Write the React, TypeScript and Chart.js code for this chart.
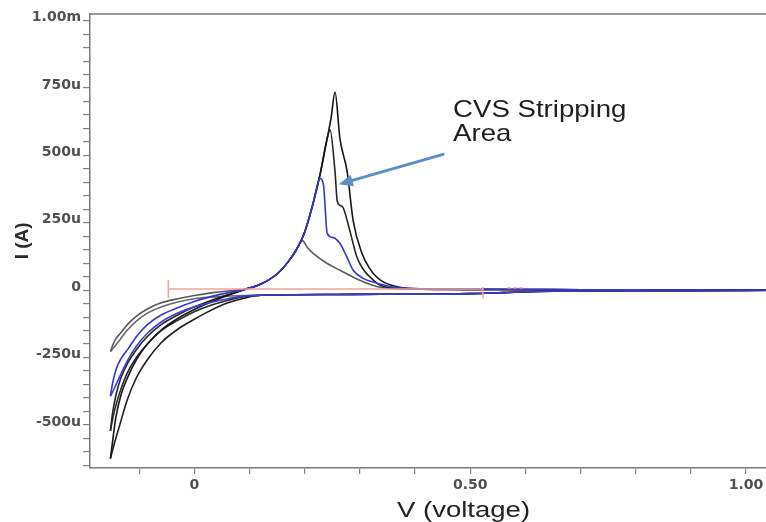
import React, { useEffect, useRef } from "react";
import { Chart, registerables } from "chart.js";

Chart.register(...registerables);

// ---------------- data (V in volts, I in µA) ----------------
const xTickValues = [-0.1, 0, 0.1, 0.2, 0.3, 0.4, 0.5, 0.6, 0.7, 0.8, 0.9, 1.0, 1.1];
const xTickLabels = ["", "0", "", "", "", "", "0.50", "", "", "", "", "1.00", ""];

const yTickValues = [
  -650, -600, -550, -500, -450, -400, -350, -300, -250, -200, -150, -100, -50, 0,
  50, 100, 150, 200, 250, 300, 350, 400, 450, 500, 550, 600, 650, 700, 750, 800,
  850, 900, 950, 1000,
];
const yTickLabels = [
  "", "", "", "-500u", "", "", "", "", "-250u", "", "", "", "", "0",
  "", "", "", "", "250u", "", "", "", "", "500u", "", "", "", "", "750u", "",
  "", "", "", "1.00m",
];

// Curve A (black, tallest stripping peak) – anodic sweep
const curveAFwdV = [-0.152, -0.148, -0.142, -0.133, -0.12, -0.104, -0.085, -0.06, -0.03, 0, 0.03, 0.06, 0.09, 0.12, 0.15, 0.17, 0.185, 0.2, 0.215, 0.228, 0.24, 0.248, 0.255, 0.264, 0.277, 0.288, 0.304, 0.318, 0.331, 0.345, 0.37, 0.41, 0.5, 0.65, 0.8, 1.0, 1.08];
const curveAFwdI = [-625, -560, -470, -390, -320, -255, -200, -148, -105, -72, -44, -20, 2, 22, 60, 105, 150, 215, 320, 430, 555, 640, 735, 562, 441, 257, 136, 80, 48, 28, 12, 5, 3, 2, 1, 0, 0];

// Curve B (black, second peak)
const curveBFwdV = [-0.152, -0.148, -0.142, -0.133, -0.12, -0.104, -0.085, -0.06, -0.03, 0, 0.03, 0.06, 0.09, 0.12, 0.15, 0.17, 0.185, 0.2, 0.215, 0.228, 0.24, 0.246, 0.255, 0.259, 0.264, 0.27, 0.282, 0.295, 0.307, 0.319, 0.337, 0.36, 0.41, 0.5, 0.65, 0.8, 1.0, 1.08];
const curveBFwdI = [-522, -455, -390, -325, -268, -218, -172, -128, -92, -62, -38, -17, 2, 22, 60, 105, 150, 215, 320, 430, 555, 595, 441, 331, 315, 305, 220, 121, 75, 48, 18, 8, 4, 3, 2, 1, 0, 0];

// Curve C (blue)
const curveCFwdV = [-0.152, -0.148, -0.142, -0.133, -0.12, -0.104, -0.085, -0.06, -0.03, 0, 0.03, 0.06, 0.09, 0.12, 0.15, 0.17, 0.185, 0.2, 0.215, 0.228, 0.234, 0.241, 0.252, 0.264, 0.277, 0.288, 0.306, 0.331, 0.36, 0.41, 0.5, 0.65, 0.8, 1.0, 1.08];
const curveCFwdI = [-393, -345, -295, -255, -218, -170, -128, -92, -65, -42, -24, -10, 2, 22, 60, 105, 150, 215, 320, 415, 393, 210, 195, 173, 121, 74, 44, 26, 12, 5, 3, 2, 1, 0, 0];

// Curve D (grey, small peak)
const curveDFwdV = [-0.152, -0.148, -0.142, -0.133, -0.12, -0.104, -0.085, -0.06, -0.03, 0, 0.03, 0.06, 0.09, 0.12, 0.15, 0.17, 0.185, 0.196, 0.205, 0.216, 0.241, 0.264, 0.288, 0.313, 0.337, 0.37, 0.45, 0.6, 0.8, 1.0, 1.08];
const curveDFwdI = [-228, -205, -180, -158, -125, -95, -70, -47, -32, -20, -10, -3, 2, 22, 60, 105, 150, 184, 158, 136, 99, 74, 48, 26, 11, 5, 3, 2, 1, 0, 0];

// Cathodic (return) sweep – common part near zero current
const revRightV = [1.08, 1.0, 0.85, 0.7, 0.62, 0.56, 0.5, 0.42, 0.34, 0.26, 0.18, 0.12];
const revRightI = [0, -1, -2, -3, -5, -9, -13, -15, -15, -16, -17, -19];

// Cathodic sweep – deposition part toward the vertex
const revLeftV = [0.09, 0.06, 0.03, 0, -0.03, -0.06, -0.085, -0.105, -0.122, -0.135, -0.145, -0.152];
const curveARevI = [-30, -48, -75, -108, -145, -195, -258, -325, -410, -500, -570, -625];
const curveBRevI = [-24, -38, -56, -80, -112, -150, -200, -250, -310, -380, -450, -522];
const curveCRevI = [-22, -32, -46, -62, -85, -118, -160, -208, -265, -320, -365, -393];
const curveDRevI = [-20, -22, -26, -32, -44, -62, -85, -115, -150, -185, -210, -228];

// Red marker (integration window)
const markerV = [-0.047, 0.523];
const markerI = [4, 4];
const markerCapLeftI = [38, -30];
const markerCapRightI = [12, -30];
const markerDashV = [0.567, 0.6];
const markerDashI = [7, 7];

// Annotation
const annotLines = ["CVS Stripping", "Area"];
const annotTextV = 0.469;
const annotTextI = [643, 554];
const arrowFromV = 0.451;
const arrowFromI = 504;
const arrowToV = 0.262;
const arrowToI = 393;

const xTitle = "V (voltage)";
const yTitle = "I (A)";

// ------------------------------------------------------------
const pts = (vs: number[], is: number[]) => vs.map((v, i) => ({ x: v, y: is[i] }));

const overlayPlugin = {
  id: "overlay",
  afterDraw(chart: any) {
    const { ctx, chartArea, scales } = chart;
    const xs = scales.x;
    const ys = scales.y;
    ctx.save();
    // top frame line
    ctx.strokeStyle = "#7a7a7a";
    ctx.lineWidth = 1.5;
    ctx.beginPath();
    ctx.moveTo(chartArea.left, chartArea.top);
    ctx.lineTo(chart.width, chartArea.top);
    ctx.stroke();

    // arrow
    const x0 = xs.getPixelForValue(arrowFromV);
    const y0 = ys.getPixelForValue(arrowFromI);
    const x1 = xs.getPixelForValue(arrowToV);
    const y1 = ys.getPixelForValue(arrowToI);
    const ang = Math.atan2(y1 - y0, x1 - x0);
    const headLen = 14;
    const headW = 6;
    const bx = x1 - headLen * Math.cos(ang);
    const by = y1 - headLen * Math.sin(ang);
    ctx.strokeStyle = "#5b8ec2";
    ctx.fillStyle = "#5b8ec2";
    ctx.lineWidth = 3;
    ctx.lineCap = "round";
    ctx.beginPath();
    ctx.moveTo(x0, y0);
    ctx.lineTo(bx, by);
    ctx.stroke();
    ctx.beginPath();
    ctx.moveTo(x1, y1);
    ctx.lineTo(bx + headW * Math.sin(ang), by - headW * Math.cos(ang));
    ctx.lineTo(bx - headW * Math.sin(ang), by + headW * Math.cos(ang));
    ctx.closePath();
    ctx.fill();

    // annotation text
    ctx.fillStyle = "#1e1e1e";
    ctx.font = '24px "Liberation Sans", Arial, sans-serif';
    ctx.textAlign = "left";
    ctx.textBaseline = "alphabetic";
    annotLines.forEach((t, i) => {
      ctx.save();
      ctx.translate(xs.getPixelForValue(annotTextV), ys.getPixelForValue(annotTextI[i]));
      ctx.scale(1.15, 1);
      ctx.fillText(t, 0, 0);
      ctx.restore();
    });

    // x title
    ctx.save();
    ctx.fillStyle = "#222";
    ctx.font = '22px "Liberation Sans", Arial, sans-serif';
    ctx.textAlign = "center";
    ctx.translate(xs.getPixelForValue(0.488), xs.bottom - 5);
    ctx.scale(1.25, 1);
    ctx.fillText(xTitle, 0, 0);
    ctx.restore();

    // y title
    ctx.save();
    ctx.fillStyle = "#2a2a2a";
    ctx.font = 'bold 19px "Liberation Sans", Arial, sans-serif';
    ctx.textAlign = "center";
    ctx.translate(chartArea.left - 62, ys.getPixelForValue(183));
    ctx.rotate(-Math.PI / 2);
    ctx.fillText(yTitle, 0, 0);
    ctx.restore();

    ctx.restore();
  },
};

export default function App() {
  const canvasRef = useRef<HTMLCanvasElement | null>(null);

  useEffect(() => {
    if (!canvasRef.current) return;
    const lineDs = (label: string, data: any[], color: string, width = 1.6, extra: any = {}) => ({
      label,
      data,
      borderColor: color,
      backgroundColor: color,
      borderWidth: width,
      pointRadius: 0,
      fill: false,
      cubicInterpolationMode: "monotone",
      ...extra,
    });
    const red = "#f2a39b";
    const chart = new Chart(canvasRef.current, {
      type: "line",
      data: {
        datasets: [
          lineDs("marker", pts(markerV, markerI), red, 1.5, { cubicInterpolationMode: "default", tension: 0 }),
          lineDs("markerCapL", pts([markerV[0], markerV[0]], markerCapLeftI), red, 1.5, { cubicInterpolationMode: "default", tension: 0 }),
          lineDs("markerCapR", pts([markerV[1], markerV[1]], markerCapRightI), red, 1.5, { cubicInterpolationMode: "default", tension: 0 }),
          lineDs("markerDash", pts(markerDashV, markerDashI), "#e0706a", 1.5, { cubicInterpolationMode: "default", tension: 0, borderDash: [4, 2] }),
          lineDs("C fwd", pts(curveCFwdV, curveCFwdI), "#3636cc"),
          lineDs("C rev", pts([...revRightV, ...revLeftV], [...revRightI, ...curveCRevI]), "#3e3ecf"),
          lineDs("A fwd", pts(curveAFwdV, curveAFwdI), "#161616"),
          lineDs("A rev", pts([...revRightV, ...revLeftV], [...revRightI, ...curveARevI]), "#1e1e1e"),
          lineDs("B fwd", pts(curveBFwdV, curveBFwdI), "#252525"),
          lineDs("B rev", pts([...revRightV, ...revLeftV], [...revRightI, ...curveBRevI]), "#2a2a2a"),
          lineDs("D fwd", pts(curveDFwdV, curveDFwdI), "#5a5a5a"),
          lineDs("D rev", pts([...revRightV, ...revLeftV], [...revRightI, ...curveDRevI]), "#6a6a6a"),
        ],
      },
      options: {
        responsive: false,
        devicePixelRatio: 1,
        animation: false,
        events: [],
        layout: { padding: { top: 14, left: 0, right: 0, bottom: 0 } },
        plugins: { legend: { display: false }, tooltip: { enabled: false }, title: { display: false } },
        scales: {
          x: {
            type: "linear",
            min: -0.189,
            max: 1.134,
            afterBuildTicks: (s: any) => {
              s.ticks = xTickValues.map((v) => ({ value: v }));
            },
            afterFit: (s: any) => {
              s.height = 54;
            },
            grid: { display: true, drawOnChartArea: false, drawTicks: true, tickLength: 6, color: "#808080", lineWidth: 1.2 },
            border: { display: true, color: "#7a7a7a", width: 1.5 },
            ticks: {
              autoSkip: false,
              maxRotation: 0,
              padding: 3,
              color: "#505050",
              font: { family: '"DejaVu Sans", sans-serif', size: 14, weight: "bold" },
              callback: (_v: any, i: number) => xTickLabels[i],
            },
          },
          y: {
            type: "linear",
            min: -660,
            max: 1025,
            afterBuildTicks: (s: any) => {
              s.ticks = yTickValues.map((v) => ({ value: v }));
            },
            afterFit: (s: any) => {
              s.width = 90;
            },
            grid: { display: true, drawOnChartArea: false, drawTicks: true, tickLength: 7, color: "#808080", lineWidth: 1.2 },
            border: { display: true, color: "#7a7a7a", width: 1.5 },
            ticks: {
              autoSkip: false,
              padding: 2,
              labelOffset: -3,
              color: "#505050",
              font: { family: '"DejaVu Sans", sans-serif', size: 14, weight: "bold" },
              callback: (_v: any, i: number) => yTickLabels[i],
            },
          },
        },
      },
      plugins: [overlayPlugin],
    } as any);
    return () => chart.destroy();
  }, []);

  return (
    <div
      style={{
        position: "fixed",
        left: 0,
        top: 0,
        width: 766,
        height: 522,
        overflow: "hidden",
        background: "#ffffff",
      }}
    >
      <canvas ref={canvasRef} width={820} height={522} style={{ display: "block", width: 820, height: 522 }} />
    </div>
  );
}
